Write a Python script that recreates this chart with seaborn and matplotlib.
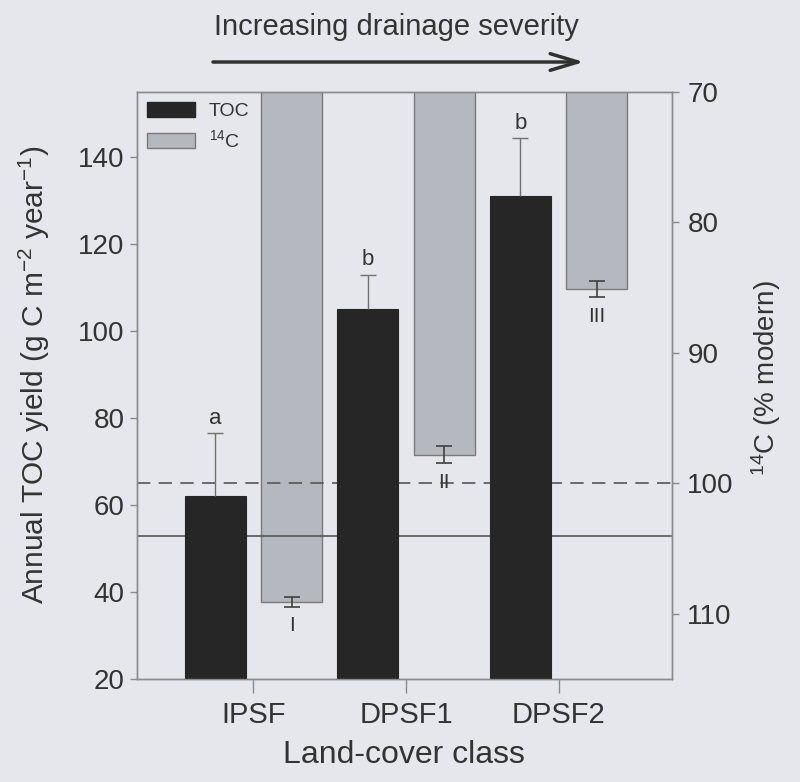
import numpy as np
import pandas as pd
import matplotlib
matplotlib.use("Agg")
import matplotlib.pyplot as plt
from matplotlib.patches import Patch, FancyArrowPatch
import seaborn as sns

# ---- data ----
classes = ["IPSF", "DPSF1", "DPSF2"]
toc_yield = [62.0, 105.0, 131.0]
toc_err = [14.5, 8.0, 13.5]
toc_letters = ["a", "b", "b"]
c14 = [109.1, 97.8, 85.1]
c14_err = [0.35, 0.65, 0.6]
c14_letters = ["I", "II", "III"]
modern_line = 100.0
atmos_line = 104.0
left_ticks = [20, 40, 60, 80, 100, 120, 140]
right_ticks = [70, 80, 90, 100, 110]

BG = "#e5e7ec"
TXT = "#333333"
SP = "#8a8a8a"
BLACK = "#262626"
GRAY = "#b5b8bf"

sns.set_style("ticks")
plt.rcParams["font.family"] = ["Liberation Sans", "DejaVu Sans"]
plt.rcParams["mathtext.fontset"] = "custom"
plt.rcParams["mathtext.rm"] = "Liberation Sans"
plt.rcParams["mathtext.it"] = "Liberation Sans:italic"
plt.rcParams["text.color"] = TXT
plt.rcParams["axes.labelcolor"] = TXT
plt.rcParams["xtick.color"] = SP
plt.rcParams["ytick.color"] = SP
plt.rcParams["xtick.labelcolor"] = TXT
plt.rcParams["ytick.labelcolor"] = TXT

df_toc = pd.DataFrame({"cls": classes, "val": toc_yield, "series": "TOC"})
df_c14 = pd.DataFrame({"cls": classes, "val": c14, "series": "14C"})
hue_order = ["TOC", "14C"]
pal = {"TOC": BLACK, "14C": GRAY}

fig = plt.figure(figsize=(8, 7.82), dpi=100, facecolor=BG)
ax = fig.add_axes([0.171, 0.1317, 0.669, 0.7506])
ax2 = ax.twinx()

sns.barplot(data=df_toc, x="cls", y="val", hue="series", hue_order=hue_order,
            palette=pal, order=classes, dodge=True, width=1.0, gap=0.2, saturation=1,
            errorbar=None, edgecolor=BLACK, linewidth=0.8, legend=False, ax=ax)
sns.barplot(data=df_c14, x="cls", y="val", hue="series", hue_order=hue_order,
            palette=pal, order=classes, dodge=True, width=1.0, gap=0.2, saturation=1,
            errorbar=None, edgecolor="#7a7a7a", linewidth=1.0, legend=False, ax=ax2)


def bar_centers(a):
    conts = [c for c in a.containers if len(c) == len(classes)]
    return [p.get_x() + p.get_width() / 2 for p in conts[0]]


# reference lines on 14C axis (above grey bars, below black bars)
ax2.axhline(modern_line, color="#555555", lw=1.2, ls=(0, (8, 5)), zorder=1.5)
ax2.axhline(atmos_line, color="#555555", lw=1.2, zorder=1.5)

# error bars
xt = bar_centers(ax)
eb = ax.errorbar(xt, toc_yield, yerr=[np.zeros(len(toc_err)), toc_err], fmt="none",
                 ecolor="#707070", elinewidth=1.0, capsize=6, capthick=1.0, zorder=3)
eb[1][0].set_visible(False)
for x, v, e, s in zip(xt, toc_yield, toc_err, toc_letters):
    ax.annotate(s, (x, v + e), xytext=(0, 3), textcoords="offset points",
                ha="center", va="bottom", fontsize=16, color=TXT)

xc = bar_centers(ax2)
ax2.errorbar(xc, c14, yerr=c14_err, fmt="none", ecolor="#404040", elinewidth=1.2,
             capsize=6, capthick=1.2, zorder=3)
for x, v, e, s in zip(xc, c14, c14_err, c14_letters):
    ax2.annotate(s, (x, v + e), xytext=(0, -7), textcoords="offset points",
                 ha="center", va="top", fontsize=15, color=TXT)

# axes settings
ax.set_xlim(-0.765, 2.744)
ax.set_ylim(20, 155)
ax2.set_ylim(115, 70)
ax.set_yticks(left_ticks)
ax2.set_yticks(right_ticks)
ax.set_zorder(ax2.get_zorder() + 1)
ax.patch.set_visible(False)
ax2.patch.set_visible(False)

for a in (ax, ax2):
    for sp in a.spines.values():
        sp.set_visible(True)
        sp.set_color(SP)
        sp.set_linewidth(1.0)

ax.tick_params(axis="y", direction="out", length=5, width=1, labelsize=20, pad=4)
ax.tick_params(axis="x", direction="out", length=10, width=1, labelsize=21, pad=6)
ax2.tick_params(axis="y", direction="out", length=5, width=1, labelsize=20, pad=6)

ax.set_xlabel("Land-cover class", fontsize=23, labelpad=8)
ax.set_ylabel("Annual TOC yield (g C m$^{-2}$ year$^{-1}$)", fontsize=21.5)
ax2.set_ylabel("$^{14}$C (% modern)", fontsize=20)
ax.yaxis.set_label_coords(-0.158, 0.518)
ax2.yaxis.set_label_coords(1.145, 0.513)

handles = [Patch(facecolor=BLACK, edgecolor=BLACK, label="TOC"),
           Patch(facecolor=GRAY, edgecolor="#7a7a7a", label="$^{14}$C")]
ax.legend(handles=handles, loc="upper left", bbox_to_anchor=(0.0, 1.0), frameon=False,
          fontsize=14, handlelength=2.5, handleheight=0.8, handletextpad=0.7,
          labelspacing=0.5, borderpad=0.2, borderaxespad=0.3)

# top annotation
fig.text(0.4956, 1 - 35 / 782, "Increasing drainage severity", ha="center",
         va="baseline", fontsize=21, color=TXT)
fig.add_artist(FancyArrowPatch(
    (213 / 800, 1 - 62 / 782), (584 / 800, 1 - 62 / 782), transform=fig.transFigure,
    arrowstyle="->,head_length=2.0,head_width=0.6", mutation_scale=10,
    shrinkA=0, shrinkB=0, color="#303030", lw=2.5))

fig.savefig("out.png", dpi=100, facecolor=BG)
